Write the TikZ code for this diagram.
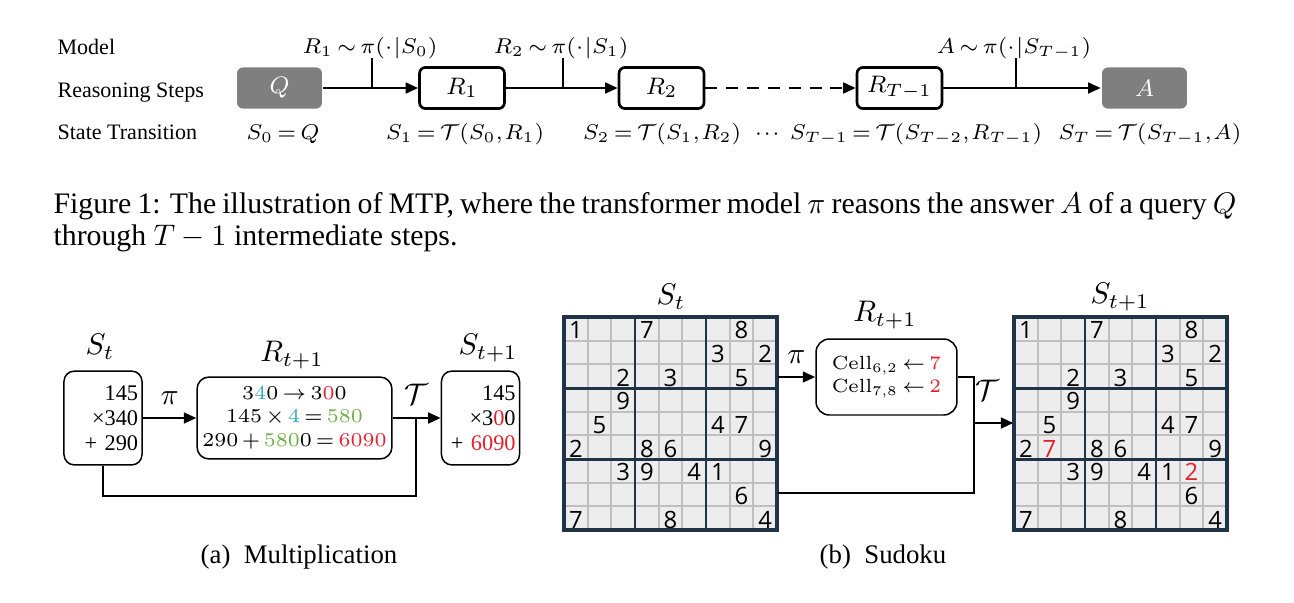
\RequirePackage{fix-cm}
\documentclass[tikz,border=0pt]{standalone}
\usepackage[no-math]{fontspec}
\setmainfont{Liberation Serif}
\newfontfamily\gridfont{Open Sans}
\usepackage{xcolor}
\usepackage{amsmath,amssymb}
\usetikzlibrary{arrows.meta,positioning,calc}
\definecolor{mtpgray}{HTML}{7F7F7F}
\definecolor{mtpcyan}{HTML}{3AA6C8}
\definecolor{mtpgreen}{HTML}{70AD47}
\definecolor{mtpred}{HTML}{E0202A}
\definecolor{gridfill}{HTML}{EDEDED}
\definecolor{gridthin}{HTML}{BFBFBF}
\definecolor{gridthick}{HTML}{203448}
\newcommand{\tightmath}{\thickmuskip=3mu\medmuskip=2.5mu\thinmuskip=1mu}

\begin{document}
\begin{tikzpicture}[x=0.3356pt, y=-0.3356pt, >=Latex,
  rowlbl/.style={anchor=base west, inner sep=0, font=\fontsize{7.4}{9}\selectfont},
  mlbl/.style={anchor=base, inner sep=0, font=\fontsize{7.2}{9}\selectfont\tightmath},
  stepbox/.style={draw, line width=0.9pt, rounded corners=2pt, minimum width=28.5pt, minimum height=13.8pt, inner sep=0, font=\fontsize{8}{9}\selectfont},
  endbox/.style={stepbox, draw=none, fill=mtpgray, text=white},
  arr/.style={-{Triangle[length=4.2pt,width=3.6pt]}, line width=0.8pt},
  link/.style={line width=0.8pt},
  sbox/.style={draw, line width=0.5pt, rounded corners=3.5pt, minimum height=31.5pt, text width=23.6pt, inner xsep=1.3pt, inner ysep=0, align=right, font=\fontsize{7.5}{8.4}\selectfont},
  rbox/.style={draw, line width=0.5pt, rounded corners=4pt, inner sep=0, align=center},
  bigmath/.style={inner sep=0, font=\fontsize{10}{12}\selectfont},
  subcap/.style={inner sep=0, font=\fontsize{9}{11}\selectfont},
  digit/.style={inner sep=0, font=\gridfont\fontsize{8}{9}\selectfont}]
  \useasboundingbox (0,0) rectangle (1294,602);
  % ---------- MTP chain ----------
  \node[rowlbl] (lmodel) at (57,54) {Model};
  \node[rowlbl] (lsteps) at (57,97) {Reasoning Steps};
  \node[rowlbl] (ltrans) at (57,139) {State Transition};
  \node[endbox] (q) at (279.5,88) {$Q$};
  \foreach \x/\n/\t in {462/r1/R_1, 661.5/r2/R_2, 899.5/rt/R_{T-1}}
    { \node[stepbox] (\n) at (\x,88) {$\t$}; }
  \node[endbox] (a) at (1144.5,88) {$A$};
  \draw[arr] (q) -- (r1);
  \draw[arr] (r1) -- (r2);
  \draw[arr, dash pattern=on 4pt off 3pt] (r2) -- (rt);
  \draw[arr] (rt) -- (a);
  % model draws each step
  \foreach \x/\n/\t in {372/m1/{R_1 \sim \pi(\cdot\,|S_0)}, 563/m2/{R_2 \sim \pi(\cdot\,|S_1)}, 1016/m3/{A \sim \pi(\cdot\,|S_{T-1})}}
    { \coordinate (\n) at (\x,88); \draw[link] (\n) -- ++(0,-30); \node[mlbl] (l\n) at (\x-2,53) {$\t$}; }
  % state after each step
  \foreach \x/\t [count=\i] in {283/{S_0 = Q}, 465/{S_1 = \mathcal{T}(S_0, R_1)}, 662/{S_2 = \mathcal{T}(S_1, R_2)}, 768/{\cdots}, 916/{S_{T-1} = \mathcal{T}(S_{T-2}, R_{T-1})}, 1150/{S_T = \mathcal{T}(S_{T-1}, A)}}
    { \node[mlbl] (s\i) at (\x,139) {$\t$}; }
  % ---------- caption ----------
  \node[anchor=base west, inner sep=0, font=\fontsize{10}{11}\selectfont] (cap1) at (53,213)
    {\makebox[397pt][s]{Figure 1: The illustration of MTP, where the transformer model $\pi$ reasons the answer $A$ of a query $Q$}};
  \node[anchor=base west, inner sep=0, font=\fontsize{10}{11}\selectfont] (cap2) at (53,245)
    {through $T-1$ intermediate steps.};
  % ---------- (a) multiplication ----------
  \node[sbox] (st) at (103,418) {145\\×340\\+ 290};
  \node[rbox, minimum width=65.4pt, minimum height=27.5pt, font=\fontsize{6.6}{8}\selectfont\tightmath] (rta) at (294.5,418)
    {$3\textcolor{mtpcyan}{4}0 \rightarrow 3\textcolor{mtpred}{0}0$\\
     $145 \times \textcolor{mtpcyan}{4} = \textcolor{mtpgreen}{580}$\\
     $290 + \textcolor{mtpgreen}{580}0 = \textcolor{mtpred}{6090}$};
  \node[sbox] (st1) at (480.5,418) {145\\×3\textcolor{mtpred}{0}0\\+ \textcolor{mtpred}{6090}};
  \node[bigmath] (lst) at (100,347) {$S_t$};
  \node[bigmath] (lrta) at (292,355) {$R_{t+1}$};
  \node[bigmath] (lst1) at (488,348) {$S_{t+1}$};
  \draw[arr] (st) -- node[bigmath, above=4pt] (pia) {$\pi$} (rta);
  \draw[arr] (rta) -- node[bigmath, above=4pt] (ta) {$\mathcal{T}$} (st1);
  \coordinate (ja) at (416,418);
  \coordinate (la) at (416,496);
  \draw[link] (st.south) |- (la) -- (ja);
  \node[subcap] (capa) at (299,557) {(a)\enspace Multiplication};
  % ---------- (b) sudoku ----------
  \foreach \gx/\gn in {564/g1, 1014/g2} {
    \fill[gridfill] (\gx,317) rectangle ++(213,213);
    \foreach \i in {1,2,4,5,7,8} {
      \draw[gridthin, line width=0.7pt] ({\gx+\i*23.667},317) -- ++(0,213);
      \draw[gridthin, line width=0.7pt] (\gx,{317+\i*23.667}) -- ++(213,0);
    }
    \foreach \i in {3,6} {
      \draw[gridthick, line width=1pt] ({\gx+\i*23.667},317) -- ++(0,213);
      \draw[gridthick, line width=1pt] (\gx,{317+\i*23.667}) -- ++(213,0);
    }
    \draw[gridthick, line width=1.1pt] (\gx,317) rectangle ++(213,213);
    \node[inner sep=0, minimum size=71.5pt] (\gn) at ({\gx+106.5},423.5) {};
    \foreach \r/\c/\v in {1/1/1,1/4/7,1/8/8,2/7/3,2/9/2,3/3/2,3/5/3,3/8/5,4/3/9,5/2/5,5/7/4,5/8/7,
                          6/1/2,6/4/8,6/5/6,6/9/9,7/3/3,7/4/9,7/6/4,7/7/1,8/8/6,9/1/7,9/5/8,9/9/4}
      { \node[digit] (\gn-\r-\c) at ({\gx+(\c-0.5)*23.667},{318.5+(\r-0.5)*23.667}) {\v}; }
  }
  \node[digit, text=mtpred] (g2-6-2) at ({1014+1.5*23.667},{318.5+5.5*23.667}) {7};
  \node[digit, text=mtpred] (g2-7-8) at ({1014+7.5*23.667},{318.5+6.5*23.667}) {2};
  \node[rbox, minimum width=47.3pt, minimum height=25.5pt, rounded corners=4.5pt, font=\fontsize{6.4}{7.6}\selectfont\tightmath] (rtb) at (886.5,377)
    {$\mathrm{Cell}_{6,2} \leftarrow \textcolor{mtpred}{7}$\\
     $\mathrm{Cell}_{7,8} \leftarrow \textcolor{mtpred}{2}$};
  \node[bigmath] (lsb) at (671,297) {$S_t$};
  \node[bigmath] (lrtb) at (885,315) {$R_{t+1}$};
  \node[bigmath] (lsb1) at (1120,297) {$S_{t+1}$};
  \draw[arr] (g1.east |- rtb.west) -- node[bigmath, above=4pt] (pib) {$\pi$} (rtb.west);
  \coordinate (jb) at (974,493);
  \coordinate (jt) at (974,423);
  \draw[link] (rtb.east) -| (jb) -- (g1.east |- jb);
  \draw[arr] (jt) -- node[bigmath, above=7pt, pos=0.35] (tb) {$\mathcal{T}$} (g2.west |- jt);
  \node[subcap] (capb) at (883,557) {(b)\enspace Sudoku};
\end{tikzpicture}
\end{document}
